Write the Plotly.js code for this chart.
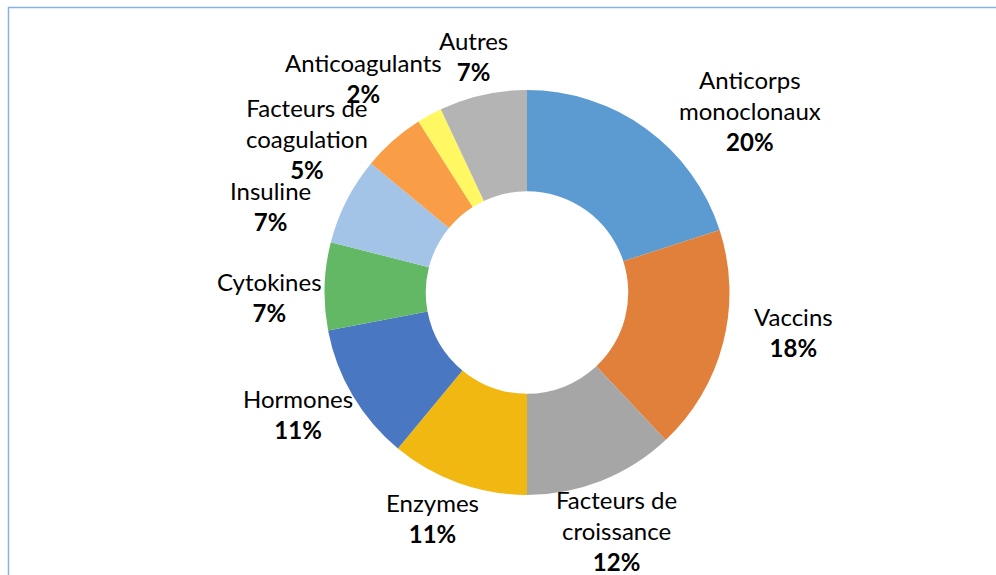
<!DOCTYPE html>
<html>
<head>
<meta charset="utf-8">
<script src="https://cdn.plot.ly/plotly-3.0.1.min.js"></script>
<style>html,body{margin:0;padding:0;background:#fff;}#chart{width:996px;height:575px;}</style>
</head>
<body>
<div id="chart"></div>
<script>
// ---- data ----
const labels = ["Anticorps monoclonaux", "Vaccins", "Facteurs de croissance", "Enzymes", "Hormones", "Cytokines", "Insuline", "Facteurs de coagulation", "Anticoagulants", "Autres"];
const labelLines = ["Anticorps<br>monoclonaux", "Vaccins", "Facteurs de<br>croissance", "Enzymes", "Hormones", "Cytokines", "Insuline", "Facteurs de<br>coagulation", "Anticoagulants", "Autres"];
const values = [20, 18, 12, 11, 11, 7, 7, 5, 2, 7];

// ---- styles / layout (not data) ----
const colors = ["#5B9BD2", "#E0803A", "#A6A6A6", "#F0B810", "#4A77C1", "#62B865", "#A3C4E6", "#F99E47", "#FFF862", "#B4B4B4"];
// label block centres in pixels [x, y]
const labelPos = [[750, 110], [793, 332], [616, 530], [432, 518], [298, 414], [269, 297], [270, 206], [307, 138], [363, 78], [473, 56]];
const W = 996, H = 575;
const font = "Lato, 'Liberation Sans', sans-serif";

const total = values.reduce((a, b) => a + b, 0);
const annotations = labelLines.map((t, i) => ({
  xref: "paper", yref: "paper",
  x: labelPos[i][0] / W, y: 1 - labelPos[i][1] / H,
  xanchor: "center", yanchor: "middle",
  showarrow: false, align: "center",
  text: t + "<br><b>" + Math.round(values[i] / total * 100) + "%</b>",
  font: {family: font, size: 24, color: "#000"}
}));

const trace = {
  type: "pie",
  labels: labels,
  values: values,
  hole: 0.5,
  sort: false,
  direction: "clockwise",
  rotation: 0,
  textinfo: "none",
  hoverinfo: "label+percent",
  marker: {colors: colors, line: {width: 0}},
  domain: {x: [324 / W, 730 / W], y: [1 - 495 / H, 1 - 90 / H]}
};

const layout = {
  width: W, height: H,
  margin: {l: 0, r: 0, t: 0, b: 0},
  paper_bgcolor: "#fff",
  showlegend: false,
  annotations: annotations,
  shapes: [{
    type: "rect", xref: "paper", yref: "paper",
    x0: 8.5 / W, x1: 1.05, y0: -0.05, y1: 1 - 7.5 / H,
    line: {color: "#86B5E3", width: 1.5}, fillcolor: "rgba(0,0,0,0)"
  }]
};

Plotly.newPlot("chart", [trace], layout, {displayModeBar: false, staticPlot: true});
</script>
</body>
</html>
